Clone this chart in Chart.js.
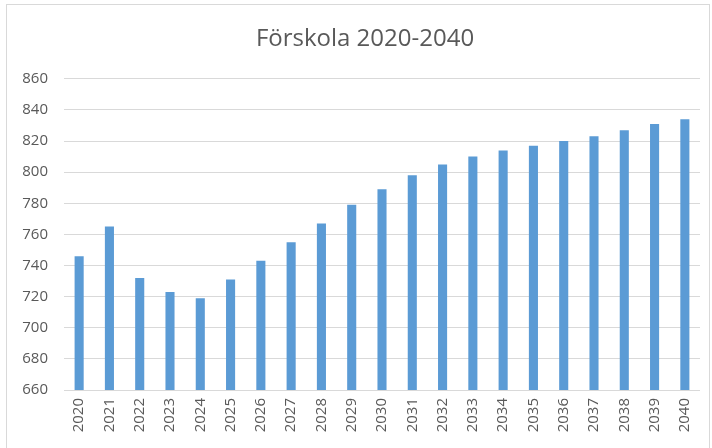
<!DOCTYPE html>
<html>
<head>
<meta charset="utf-8">
<script src="https://cdn.jsdelivr.net/npm/chart.js@4/dist/chart.umd.min.js"></script>
<style>
  html, body { margin: 0; padding: 0; background: #fff; }
  #wrap { position: absolute; left: 0; top: 0; width: 712px; height: 448px; }
  #frame { position: absolute; left: 6px; top: 4px; width: 704px; height: 450px; border: 1px solid #d9d9d9; box-sizing: border-box; }
  canvas { position: absolute; left: 0; top: 0; }
</style>
</head>
<body>
<div id="wrap">
  <div id="frame"></div>
  <canvas id="c" width="712" height="448"></canvas>
</div>
<script>
const titleText = 'Förskola 2020-2040';
const years = ['2020','2021','2022','2023','2024','2025','2026','2027','2028','2029','2030',
               '2031','2032','2033','2034','2035','2036','2037','2038','2039','2040'];
const values = [746, 765, 732, 723, 719, 731, 743, 755, 767, 779, 789,
                798, 805, 810, 814, 817, 820, 823, 827, 831, 834];
const yMin = 660, yMax = 860, yStep = 20;

const textColor = '#595959';
const gridColor = '#d9d9d9';
const barColor = '#5b9bd5';
const fontFamily = '"Open Sans", "Noto Sans", sans-serif';

const titleShift = {
  id: 'titleShift',
  afterLayout(chart) {
    const t = chart.titleBlock;
    if (t) { t.left = 30; t.width = t.right - t.left; }
  }
};

new Chart(document.getElementById('c'), {
  type: 'bar',
  data: {
    labels: years,
    datasets: [{
      label: titleText,
      data: values,
      backgroundColor: barColor,
      borderWidth: 0,
      categoryPercentage: 1.0,
      barPercentage: 0.3
    }]
  },
  plugins: [titleShift],
  options: {
    responsive: false,
    animation: false,
    devicePixelRatio: 1,
    layout: { padding: { left: 0, right: 12, top: 0, bottom: 0 } },
    plugins: {
      legend: { display: false },
      tooltip: { enabled: false },
      title: {
        display: true,
        text: titleText,
        color: textColor,
        font: { family: fontFamily, size: 24, weight: 'normal', lineHeight: 1.2 },
        padding: { top: 25, bottom: 25 }
      }
    },
    scales: {
      x: {
        grid: { display: false, drawTicks: false },
        border: { display: false },
        ticks: {
          color: textColor,
          font: { family: fontFamily, size: 15 },
          minRotation: 90, maxRotation: 90,
          padding: 8,
          autoSkip: false
        },
        afterFit: (s) => { s.height = 58; }
      },
      y: {
        min: yMin, max: yMax,
        grid: { color: gridColor, lineWidth: 1, drawTicks: false },
        border: { display: false },
        ticks: {
          stepSize: yStep,
          color: textColor,
          font: { family: fontFamily, size: 15 },
          padding: 16
        },
        afterFit: (s) => { s.width = 64; }
      }
    }
  }
});
</script>
</body>
</html>
